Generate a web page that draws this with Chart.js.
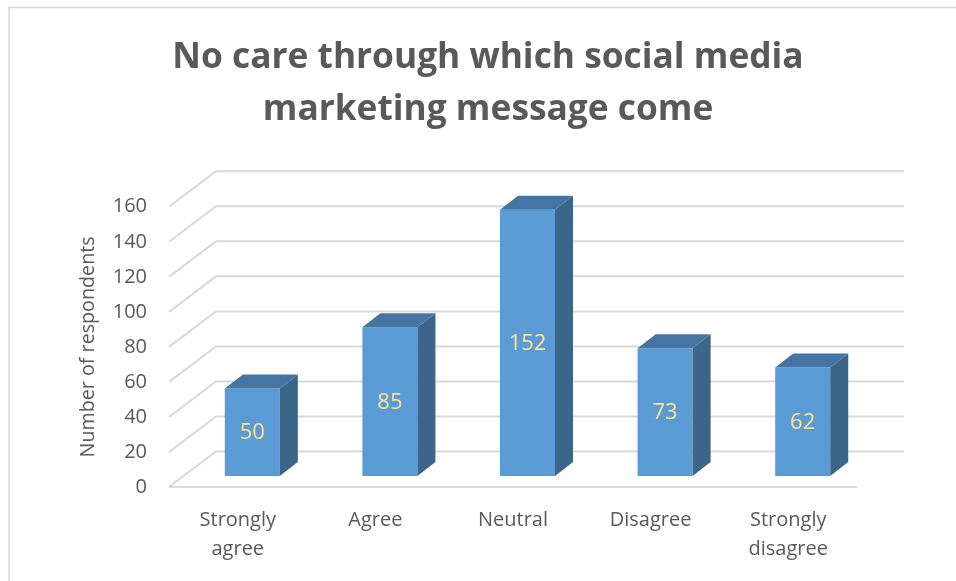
<!DOCTYPE html>
<html>
<head>
<meta charset="utf-8">
<script src="https://cdn.jsdelivr.net/npm/chart.js@4"></script>
<style>
  html, body { margin: 0; padding: 0; background: #ffffff; }
  #wrap { width: 956px; height: 581px; position: relative; }
</style>
</head>
<body>
<div id="wrap"><canvas id="chart" width="956" height="581"></canvas></div>
<script>
// Survey answers and how many respondents gave each one
const categories = [["Strongly", "agree"], "Agree", "Neutral", "Disagree", ["Strongly", "disagree"]];
const respondents = [50, 85, 152, 73, 62];
const axisMax = 160;
const axisStep = 20;
const titleLines = ["No care through which social media", "marketing message come"];
const yTitle = "Number of respondents";

const TEXT = "#595959";
const GRID = "#d9d9d9";
const FONT = "'Open Sans', 'DejaVu Sans', sans-serif";

// 3D projection: back wall offset and bar placement inside the floor depth
const WALL_DX = 47, WALL_DY = -35.5;
const BAR_DX = 14.5, BAR_DY = -11;
const DEPTH_DX = 18, DEPTH_DY = -14;

const box3d = {
  id: "box3d",
  beforeDraw(chart) {
    const { ctx, chartArea, scales } = chart;
    const y = scales.y;
    ctx.save();
    ctx.fillStyle = "#ffffff";
    ctx.fillRect(0, 0, chart.width, chart.height);
    // outer frame
    ctx.strokeStyle = GRID;
    ctx.lineWidth = 1.5;
    ctx.beginPath();
    ctx.moveTo(9, chart.height + 2);
    ctx.lineTo(9, 7.5);
    ctx.lineTo(chart.width + 2, 7.5);
    ctx.stroke();
    // back wall gridlines and the side diagonals
    ctx.lineWidth = 2;
    ctx.strokeStyle = GRID;
    const left = chartArea.left, right = chartArea.right;
    for (let v = 0; v <= axisMax; v += axisStep) {
      const py = y.getPixelForValue(v);
      ctx.beginPath();
      ctx.moveTo(left, py);
      ctx.lineTo(left + WALL_DX, py + WALL_DY);
      ctx.lineTo(right + WALL_DX, py + WALL_DY);
      ctx.stroke();
    }
    // floor front edge
    const y0 = y.getPixelForValue(0);
    ctx.beginPath();
    ctx.moveTo(left, y0);
    ctx.lineTo(right, y0);
    ctx.stroke();
    ctx.restore();
  },
  beforeDatasetsDraw(chart) {
    chart.ctx.save();
    chart.ctx.translate(BAR_DX, BAR_DY);
  },
  afterDatasetsDraw(chart) {
    const { ctx } = chart;
    const meta = chart.getDatasetMeta(0);
    const data = chart.data.datasets[0].data;
    meta.data.forEach((bar, i) => {
      const { x, y, base, width } = bar.getProps(["x", "y", "base", "width"], true);
      const l = x - width / 2, r = x + width / 2;
      // side face
      ctx.fillStyle = "#3b6589";
      ctx.beginPath();
      ctx.moveTo(r, y);
      ctx.lineTo(r + DEPTH_DX, y + DEPTH_DY);
      ctx.lineTo(r + DEPTH_DX, base + DEPTH_DY);
      ctx.lineTo(r, base);
      ctx.closePath();
      ctx.fill();
      // top face
      ctx.fillStyle = "#4575a2";
      ctx.beginPath();
      ctx.moveTo(l, y);
      ctx.lineTo(l + DEPTH_DX, y + DEPTH_DY);
      ctx.lineTo(r + DEPTH_DX, y + DEPTH_DY);
      ctx.lineTo(r, y);
      ctx.closePath();
      ctx.fill();
      // value label on the front face
      ctx.fillStyle = "#FFE38F";
      ctx.font = "22px " + FONT;
      ctx.textAlign = "center";
      ctx.textBaseline = "middle";
      ctx.fillText(String(data[i]), x, (y + base) / 2 + 1);
    });
    ctx.restore();
  }
};

new Chart(document.getElementById("chart"), {
  type: "bar",
  data: {
    labels: categories,
    datasets: [{
      data: respondents,
      backgroundColor: "#5b9bd5",
      borderWidth: 0,
      categoryPercentage: 1,
      barPercentage: 0.4,
      clip: false
    }]
  },
  options: {
    responsive: false,
    animation: false,
    devicePixelRatio: 1,
    layout: { padding: { left: 20, right: 0, top: 0, bottom: 0 } },
    plugins: {
      legend: { display: false },
      tooltip: { enabled: false },
      title: {
        display: true,
        text: titleLines,
        color: TEXT,
        font: { family: FONT, size: 35.3, weight: "bold", lineHeight: 1.47 },
        padding: { top: 32, bottom: 71 }
      }
    },
    scales: {
      x: {
        grid: { display: false, drawTicks: false },
        border: { display: false },
        ticks: {
          color: TEXT,
          font: { family: FONT, size: 20, lineHeight: 1.45 },
          padding: 19,
          maxRotation: 0,
          autoSkip: false
        },
        afterFit(scale) { scale.height = 581 - 487; }
      },
      y: {
        min: 0,
        max: axisMax,
        grid: { display: false, drawTicks: false },
        border: { display: false },
        ticks: {
          stepSize: axisStep,
          color: TEXT,
          font: { family: FONT, size: 20 },
          padding: 22
        },
        title: {
          display: true,
          text: yTitle,
          color: TEXT,
          font: { family: FONT, size: 19.7, lineHeight: 1.2 },
          padding: { top: 57, bottom: 0 }
        },
        afterFit(scale) { scale.width = 149; }
      },
      // empty strip on the right that holds the room for the back wall
      side: {
        type: "linear",
        position: "right",
        display: true,
        grid: { display: false, drawTicks: false },
        border: { display: false },
        ticks: { display: false },
        afterFit(scale) { scale.width = 99; }
      }
    }
  },
  plugins: [box3d]
});
</script>
</body>
</html>
